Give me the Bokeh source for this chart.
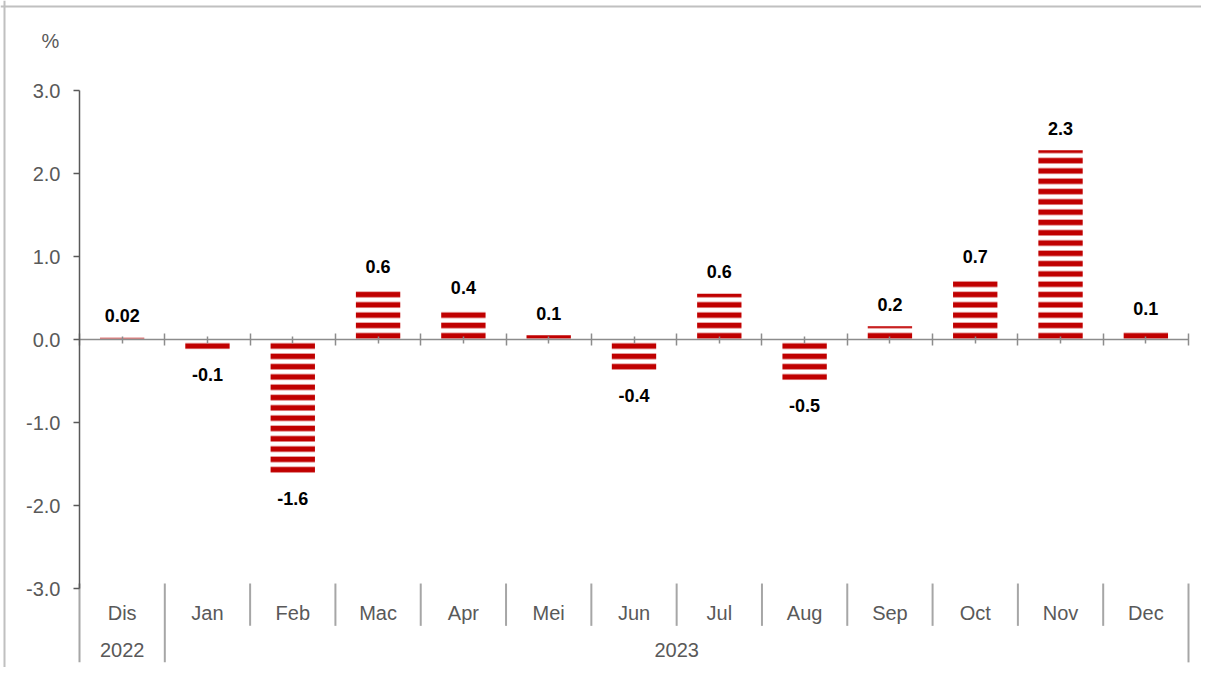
from bokeh.plotting import figure
from bokeh.models import (LinearAxis, FixedTicker, Range1d, ColumnDataSource,
                          Span, Label, PrintfTickFormatter)
from bokeh.core.properties import value
from bokeh.embed import file_html
from bokeh.resources import INLINE

# ---------------- data ----------------
months = ["Dis", "Jan", "Feb", "Mac", "Apr", "Mei", "Jun", "Jul", "Aug", "Sep", "Oct", "Nov", "Dec"]
years = ["2022", "2023"]
year_counts = [1, 12]
values = [0.02, -0.12, -1.61, 0.61, 0.36, 0.05, -0.37, 0.55, -0.49, 0.16, 0.74, 2.28, 0.11]
value_labels = ["0.02", "-0.1", "-1.6", "0.6", "0.4", "0.1", "-0.4", "0.6", "-0.5", "0.2", "0.7", "2.3", "0.1"]
y_ticks = [-3.0, -2.0, -1.0, 0.0, 1.0, 2.0, 3.0]
unit_label = "%"

# ---------------- layout ----------------
W, H = 1201, 667
PX_X = 1109 / 13.0      # pixels per category
PX_Y = 83.0             # pixels per percentage point
X0, Y0 = 79, 339        # pixel position of (0, 0)

x_range = Range1d(-X0 / PX_X, (W - X0) / PX_X)
y_range = Range1d(-(H - Y0) / PX_Y, Y0 / PX_Y)

p = figure(width=W, height=H, x_range=x_range, y_range=y_range,
           output_backend="svg", toolbar_location=None,
           x_axis_type=None, y_axis_type=None, title=None,
           min_border=0, min_border_left=0, min_border_right=0,
           min_border_top=0, min_border_bottom=0)
p.outline_line_color = None
p.background_fill_color = "white"
p.border_fill_color = "white"

n = len(months)
centers = [i + 0.5 for i in range(n)]
boundaries = list(range(n + 1))

# ---------------- bars ----------------
src = ColumnDataSource(dict(x=centers, top=values))
p.vbar(x="x", top="top", bottom=0, width=0.52, source=src,
       fill_color="white", line_color=None,
       hatch_pattern="horizontal_line", hatch_color="#C00000",
       hatch_weight=5.5, hatch_scale=10.3)

# ---------------- value labels ----------------
pos = [i for i, v in enumerate(values) if v >= 0]
neg = [i for i, v in enumerate(values) if v < 0]
lab_font = dict(text_font=value("Liberation Sans"), text_font_style="bold",
                text_font_size="18px", text_color="#000000",
                text_align="center", text_baseline="middle")
p.text(x=[centers[i] for i in pos], y=[values[i] for i in pos],
       text=[value_labels[i] for i in pos], y_offset=-22, **lab_font)
p.text(x=[centers[i] for i in neg], y=[values[i] for i in neg],
       text=[value_labels[i] for i in neg], y_offset=25, **lab_font)

# ---------------- y axis ----------------
yaxis = LinearAxis(fixed_location=0, bounds=(y_ticks[0], y_ticks[-1]),
                   ticker=FixedTicker(ticks=y_ticks),
                   formatter=PrintfTickFormatter(format="%.1f"))
yaxis.axis_line_color = "#595959"
yaxis.axis_line_width = 1.5
yaxis.major_tick_line_color = "#595959"
yaxis.major_tick_line_width = 1.5
yaxis.major_tick_in = 0
yaxis.major_tick_out = 6
yaxis.minor_tick_line_color = None
yaxis.major_label_standoff = 13
yaxis.major_label_text_font = "Liberation Sans"
yaxis.major_label_text_font_size = "20px"
yaxis.major_label_text_color = "#595959"
p.add_layout(yaxis, "left")

# ---------------- x axis at zero ----------------
xaxis = LinearAxis(fixed_location=0, bounds=(0, n),
                   ticker=FixedTicker(ticks=boundaries, minor_ticks=centers))
xaxis.axis_line_color = "#8C8C8C"
xaxis.axis_line_width = 1.5
xaxis.major_tick_line_color = "#8C8C8C"
xaxis.major_tick_line_width = 1.5
xaxis.major_tick_in = 6
xaxis.major_tick_out = 6
xaxis.minor_tick_line_color = "#8C8C8C"
xaxis.minor_tick_line_width = 1.5
xaxis.minor_tick_in = 3
xaxis.minor_tick_out = 4
xaxis.major_label_text_color = None
p.add_layout(xaxis, "below")

# ---------------- category labels (months / years) ----------------
SEP_TOP = -2.94
MONTH_ROW = -3.30
MONTH_SEP_BOTTOM = -3.45
YEAR_ROW = -3.74
GROUP_SEP_BOTTOM = -3.89

cat_font = dict(text_font=value("Liberation Sans"), text_font_size="20px",
                text_color="#595959", text_align="center", text_baseline="middle")
p.text(x=centers, y=[MONTH_ROW] * n, text=months, **cat_font)

group_edges = [0]
for c in year_counts:
    group_edges.append(group_edges[-1] + c)
year_centers = [(group_edges[k] + group_edges[k + 1]) / 2 for k in range(len(years))]
p.text(x=year_centers, y=[YEAR_ROW] * len(years), text=years, **cat_font)

short_seps = [b for b in boundaries if b not in group_edges]
p.segment(x0=short_seps, y0=[SEP_TOP] * len(short_seps),
          x1=short_seps, y1=[MONTH_SEP_BOTTOM] * len(short_seps),
          line_color="#A6A6A6", line_width=2)
p.segment(x0=group_edges, y0=[SEP_TOP] * len(group_edges),
          x1=group_edges, y1=[GROUP_SEP_BOTTOM] * len(group_edges),
          line_color="#A6A6A6", line_width=2)

# ---------------- unit label ----------------
p.add_layout(Label(x=-0.34, y=3.60, text=unit_label, text_align="center",
                   text_baseline="middle", text_font="Liberation Sans",
                   text_font_size="20px", text_color="#595959"))

# ---------------- outer border (left / top) ----------------
p.add_layout(Span(location=(4 - X0) / PX_X, dimension="height",
                  line_color="#C0C0C0", line_width=2))
p.add_layout(Span(location=(Y0 - 6) / PX_Y, dimension="width",
                  line_color="#C0C0C0", line_width=2))

open("out.html", "w").write(file_html(p, INLINE))
